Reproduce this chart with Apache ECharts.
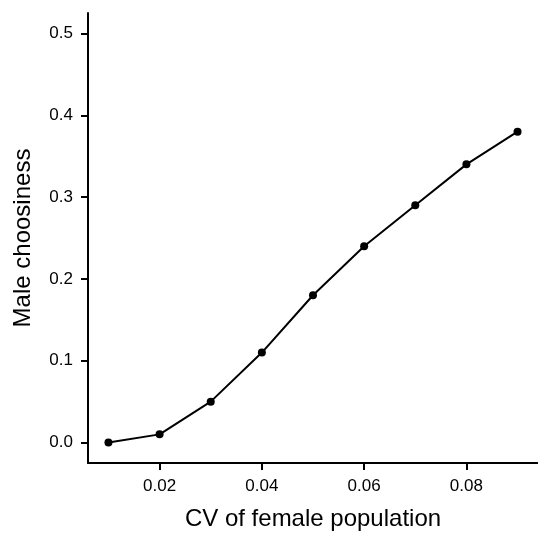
<!DOCTYPE html>
<html><head><meta charset="utf-8">
<script src="https://cdn.jsdelivr.net/npm/echarts@6/dist/echarts.min.js"></script>
<style>html,body{margin:0;padding:0;background:#fff}#c{width:538px;height:536px}</style>
</head><body><div id="c"></div>
<script>
const cvValues = [0.01, 0.02, 0.03, 0.04, 0.05, 0.06, 0.07, 0.08, 0.09];
const choosiness = [0.0, 0.01, 0.05, 0.11, 0.18, 0.24, 0.29, 0.34, 0.38];
const xTicks = [0.02, 0.04, 0.06, 0.08];
const yTicks = [0.0, 0.1, 0.2, 0.3, 0.4, 0.5];

const chart = echarts.init(document.getElementById('c'), null, {renderer: 'canvas'});
const font = 'Liberation Sans, Arial, sans-serif';
chart.setOption({
  animation: false,
  backgroundColor: '#fff',
  grid: {left: 88, top: 13, bottom: 70, right: -2, containLabel: false},
  xAxis: {
    type: 'value', min: 0.006, max: 0.094,
    name: 'CV of female population', nameLocation: 'middle', nameGap: 44,
    nameTextStyle: {fontSize: 24, color: '#000', fontFamily: font},
    axisLine: {show: true, onZero: false, lineStyle: {color: '#000', width: 2}},
    axisTick: {show: true, length: 7, lineStyle: {color: '#000', width: 2},
      customValues: xTicks},
    axisLabel: {fontSize: 17, color: '#000', margin: 15, fontFamily: font,
      customValues: xTicks, formatter: v => v.toFixed(2)},
    splitLine: {show: false}
  },
  yAxis: {
    type: 'value', min: -0.025, max: 0.525,
    name: 'Male choosiness', nameLocation: 'middle', nameGap: 53,
    nameTextStyle: {fontSize: 24, color: '#000', fontFamily: font},
    axisLine: {show: true, onZero: false, lineStyle: {color: '#000', width: 2}},
    axisTick: {show: true, length: 7, lineStyle: {color: '#000', width: 2},
      customValues: yTicks},
    axisLabel: {fontSize: 17, color: '#000', margin: 15, fontFamily: font,
      customValues: yTicks, formatter: v => v.toFixed(1)},
    splitLine: {show: false}
  },
  series: [{
    type: 'line',
    data: cvValues.map((x, i) => [x, choosiness[i]]),
    symbol: 'circle', symbolSize: 8, showSymbol: true,
    lineStyle: {color: '#000', width: 2},
    itemStyle: {color: '#000'},
    clip: false
  }]
});
</script></body></html>
